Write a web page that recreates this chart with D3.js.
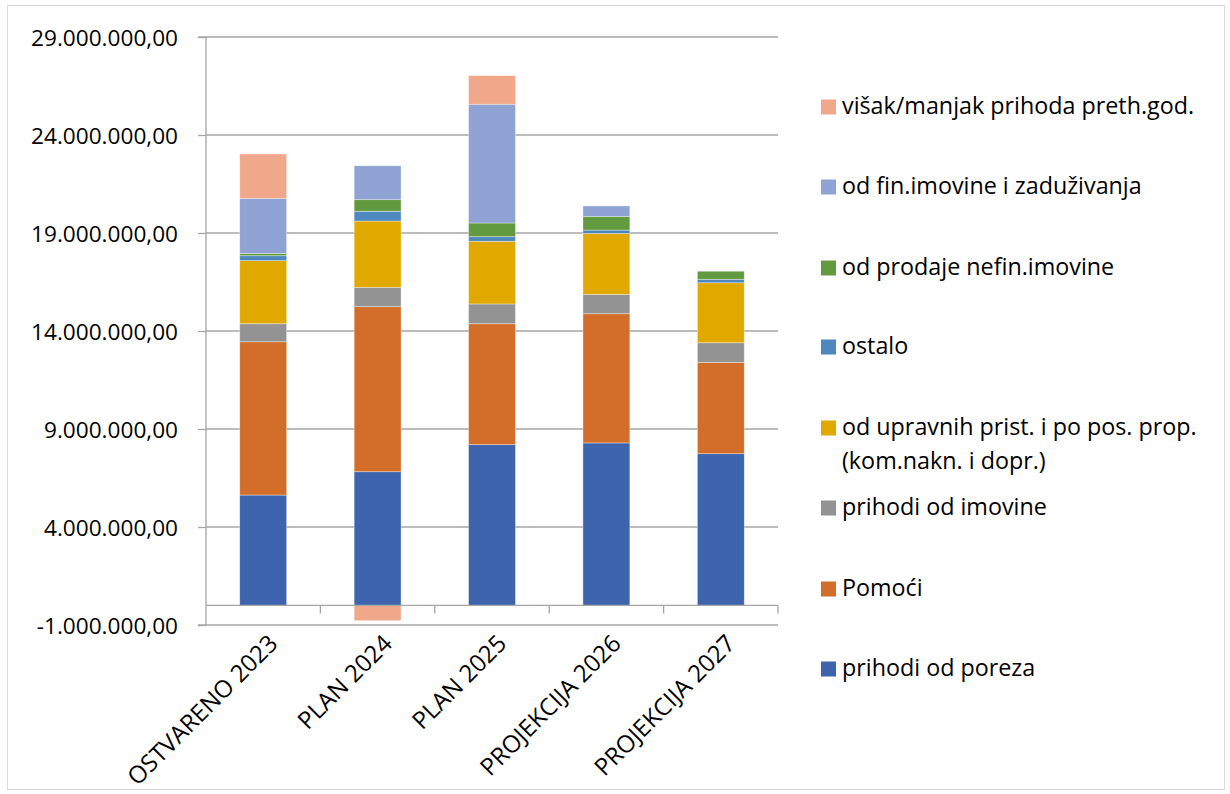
<!DOCTYPE html>
<html>
<head>
<meta charset="utf-8">
<script src="https://cdn.jsdelivr.net/npm/d3@7"></script>
<style>
  html, body { margin: 0; padding: 0; background: #fff; }
  svg { display: block; }
  text { font-family: "Open Sans", "Noto Sans", sans-serif; fill: #000; }
</style>
</head>
<body>
<svg id="chart" width="1230" height="794"></svg>
<script>
// ---- data ----
const categories = ["OSTVARENO 2023", "PLAN 2024", "PLAN 2025", "PROJEKCIJA 2026", "PROJEKCIJA 2027"];
const seriesNames = [
  "prihodi od poreza",
  "Pomoći",
  "prihodi od imovine",
  "od upravnih prist. i po pos. prop. (kom.nakn. i dopr.)",
  "ostalo",
  "od prodaje nefin.imovine",
  "od fin.imovine i zaduživanja",
  "višak/manjak prihoda preth.god."
];
const prihodiOdPoreza   = [5630000, 6820000, 8200000, 8290000, 7740000];
const pomoci            = [7820000, 8420000, 6170000, 6590000, 4660000];
const prihodiOdImovine  = [920000,  990000,  1010000, 990000,  1000000];
const odUpravnih        = [3220000, 3380000, 3200000, 3110000, 3060000];
const ostalo            = [250000,  500000,  230000,  170000,  180000];
const odProdaje         = [120000,  590000,  700000,  700000,  410000];
const odFinImovine      = [2810000, 1730000, 6060000, 530000,  0];
const visakManjak       = [2260000, -780000, 1460000, 0,       0];
const yTicks = [-1000000, 4000000, 9000000, 14000000, 19000000, 24000000, 29000000];

const seriesValues = [prihodiOdPoreza, pomoci, prihodiOdImovine, odUpravnih, ostalo, odProdaje, odFinImovine, visakManjak];
const colors = ["#3D64AD", "#D36E2A", "#939393", "#E1A900", "#4E88BF", "#629B3F", "#8FA4D5", "#F1A88A"];
const legendLabels = [
  ["višak/manjak prihoda preth.god."],
  ["od fin.imovine i zaduživanja"],
  ["od prodaje nefin.imovine"],
  ["ostalo"],
  ["od upravnih prist. i po pos. prop.", "(kom.nakn. i dopr.)"],
  ["prihodi od imovine"],
  ["Pomoći"],
  ["prihodi od poreza"]
];

// ---- build table ----
const rows = categories.map((c, i) => {
  const r = { cat: c };
  seriesNames.forEach((s, j) => r[s] = seriesValues[j][i]);
  return r;
});

const svg = d3.select("#chart");
const pLeft = 206, pRight = 778, pTop = 37, pBottom = 625;

// outer border
svg.append("rect").attr("x", 7.5).attr("y", 5.5).attr("width", 1217).attr("height", 784)
  .attr("fill", "none").attr("stroke", "#d9d9d9").attr("stroke-width", 1);

const x = d3.scaleBand().domain(categories).range([pLeft, pRight]).paddingInner(0.59).paddingOuter(0.295);
const y = d3.scaleLinear().domain([-1000000, 29000000]).range([pBottom, pTop]);

const locale = d3.formatLocale({ decimal: ",", thousands: ".", grouping: [3], currency: ["", ""], minus: "-" });
const fmt = locale.format(",.2f");

// gridlines
svg.append("g").selectAll("line").data(yTicks).join("line")
  .attr("x1", pLeft).attr("x2", pRight)
  .attr("y1", d => y(d)).attr("y2", d => y(d))
  .attr("stroke", "#a6a6a6").attr("stroke-width", 1.3);

// y axis
const yAxis = d3.axisLeft(y).tickValues(yTicks).tickSize(8).tickPadding(0).tickFormat(fmt);
const gy = svg.append("g").attr("transform", `translate(${pLeft},0)`).call(yAxis);
gy.select(".domain").attr("stroke", "#a6a6a6").attr("stroke-width", 1.3).attr("d", `M-8,${pTop}H0V${pBottom}H-8`);
gy.selectAll(".tick line").attr("stroke", "#a6a6a6").attr("stroke-width", 1.3);
gy.selectAll(".tick text")
  .attr("x", -28).attr("dy", null).attr("y", 0)
  .attr("dominant-baseline", "central")
  .style("font-family", "'Open Sans', sans-serif")
  .style("font-size", "22.6px").attr("fill", "#000");

// stacked bars
const stack = d3.stack().keys(seriesNames).offset(d3.stackOffsetDiverging);
const stacked = stack(rows);

svg.append("g").selectAll("g").data(stacked).join("g")
  .attr("fill", (d, i) => colors[i])
  .selectAll("rect").data(d => d).join("rect")
  .attr("x", d => x(d.data.cat))
  .attr("width", x.bandwidth())
  .attr("y", d => y(Math.max(d[0], d[1])))
  .attr("height", d => Math.abs(y(d[0]) - y(d[1])))
  .attr("stroke", "rgba(255,255,255,0.5)").attr("stroke-width", 0.7);

// x axis at zero
const xAxisG = svg.append("g").attr("transform", `translate(0,${y(0)})`);
xAxisG.append("line").attr("x1", pLeft).attr("x2", pRight).attr("y1", 0).attr("y2", 0)
  .attr("stroke", "#a6a6a6").attr("stroke-width", 1.3);
const step = x.step();
const x0 = x(categories[0]) - x.step() * x.paddingOuter();
xAxisG.selectAll("line.tk").data(d3.range(1, categories.length + 1)).join("line")
  .attr("class", "tk")
  .attr("x1", i => x0 + i * step).attr("x2", i => x0 + i * step)
  .attr("y1", 0).attr("y2", 8)
  .attr("stroke", "#a6a6a6").attr("stroke-width", 1.3);

// category labels (rotated)
svg.append("g").selectAll("text").data(categories).join("text")
  .attr("transform", d => `translate(${x(d) + x.bandwidth() / 2 + 16},${645}) rotate(-45)`)
  .attr("text-anchor", "end")
  .style("font-size", "24px")
  .text(d => d);

// legend
const legendY = [107, 187, 268, 347, 428, 508, 589, 669];
const lg = svg.append("g");
legendLabels.forEach((lines, k) => {
  const ci = seriesNames.length - 1 - k;
  const cy = legendY[k];
  lg.append("rect").attr("x", 821).attr("y", cy - 7.5).attr("width", 15).attr("height", 15).attr("fill", colors[ci]);
  lines.forEach((t, li) => {
    lg.append("text").attr("x", 842).attr("y", cy + 7 + li * 33.5)
      .style("font-size", "23.3px").text(t);
  });
});
</script>
</body>
</html>
